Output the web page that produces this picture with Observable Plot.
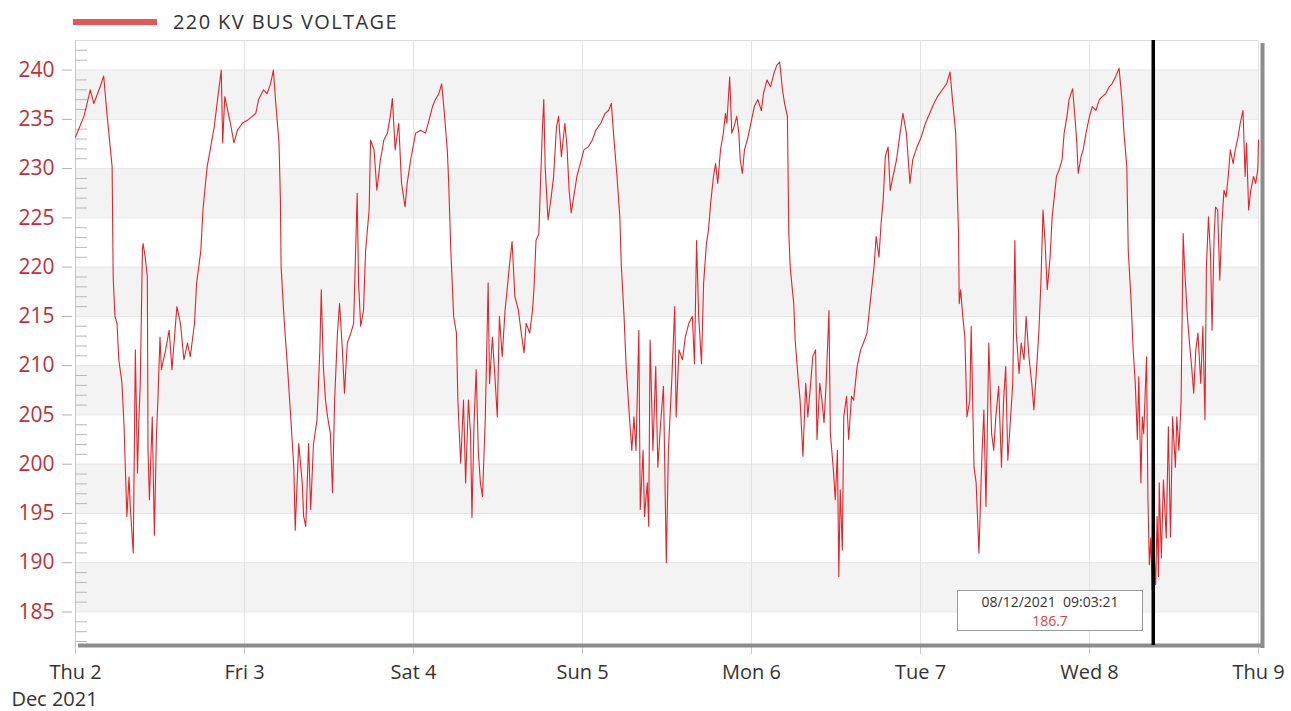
<!DOCTYPE html>
<html><head><meta charset="utf-8">
<script src="https://cdn.jsdelivr.net/npm/d3@7"></script>
<script src="https://cdn.jsdelivr.net/npm/@observablehq/plot@0.6"></script>
<style>
body{margin:0;background:#fff;font-family:"Open Sans",sans-serif;}
#wrap{position:relative;width:1291px;height:711px;overflow:hidden;}
#legend{position:absolute;left:73px;top:11px;height:21px;display:flex;align-items:center;}
.sw{width:84px;height:6px;background:#e05a5a;}
.lt{margin-left:16px;font-size:20px;letter-spacing:1.4px;color:#333;}
#chart{position:absolute;left:0;top:30px;}
#tip{position:absolute;left:957px;top:590px;width:186px;height:41px;border:1px solid #9a9a9a;background:#fff;box-sizing:border-box;text-align:center;font-size:14px;line-height:19px;padding-top:1px;white-space:pre;color:#333;}
#tip .v{color:#d4474a;}
</style></head>
<body>
<div id="wrap">
  <div id="legend"><div class="sw"></div><div class="lt">220 KV BUS VOLTAGE</div></div>
  <div id="chart"></div>
  <div id="tip">08/12/2021  09:03:21<br><span class="v">186.7</span></div>
</div>
<script>
// hours since Thu 2 Dec 2021 00:00
const hours = [0,1.2,2.1,2.6,3.5,4.0,4.5,5.2,5.35,5.6,5.9,6.15,6.6,6.9,7.1,7.3,7.6,7.8,8.2,8.5,8.8,9.0,9.2,9.5,9.6,9.9,10.2,10.3,10.5,10.9,11.2,11.5,11.7,12.0,12.2,12.8,13.3,13.7,14.4,14.9,15.4,15.9,16.3,16.9,17.2,17.5,17.8,18.1,18.5,18.7,19.2,19.7,20.1,20.7,20.9,21.2,21.5,22.0,22.5,23.0,23.7,24.4,25.1,25.6,26.0,26.7,27.2,27.7,28.1,28.4,28.9,29.1,29.2,29.6,29.8,30.1,30.5,31.0,31.2,31.7,32.2,32.4,32.7,33.1,33.4,33.8,34.3,34.7,34.9,35.2,35.5,35.8,36.2,36.5,36.8,37.2,37.5,37.9,38.2,38.6,39.1,39.5,40.0,40.2,40.5,40.9,41.2,41.7,41.9,42.4,42.8,43.3,43.8,44.3,44.7,45.0,45.4,45.9,46.3,46.8,47.1,47.6,48.3,49.0,49.7,50.2,50.7,51.1,51.6,52.0,52.3,52.8,53.0,53.3,53.5,53.7,54.1,54.3,54.7,55.1,55.4,55.8,56.1,56.3,56.6,56.9,57.2,57.5,57.8,58.2,58.6,58.8,59.2,59.5,59.9,60.2,60.6,61.0,61.3,61.6,62.0,62.4,62.9,63.3,63.7,64.0,64.5,64.9,65.1,65.4,65.8,66.0,66.3,66.5,66.7,67.1,67.5,67.9,68.3,68.6,69.0,69.5,69.8,70.1,70.4,70.9,71.2,71.7,72.2,72.8,73.4,73.9,74.6,75.2,75.7,76.1,76.4,76.9,77.3,77.5,77.9,78.2,78.6,79.0,79.3,79.6,80.0,80.2,80.6,80.8,81.2,81.4,81.6,82.0,82.4,82.7,83.1,83.5,83.9,84.2,84.7,85.1,85.3,85.7,86.2,86.6,87.1,87.6,87.9,88.2,88.5,88.9,89.2,89.6,89.9,90.2,90.6,90.9,91.2,91.6,92.0,92.3,92.5,92.9,93.2,93.5,93.9,94.2,94.4,94.7,95.0,95.5,95.9,96.4,96.9,97.4,97.7,98.2,98.7,99.2,99.6,100.0,100.4,100.7,101.1,101.3,101.5,101.8,102.0,102.2,102.6,102.9,103.3,103.7,104.0,104.4,104.7,105.1,105.3,105.7,106.0,106.3,106.6,107.0,107.2,107.6,107.9,108.2,108.4,108.6,108.9,109.1,109.5,109.8,110.2,110.5,111.0,111.5,111.9,112.4,112.9,113.4,113.7,114.1,114.4,114.7,115.0,115.4,115.7,116.1,116.6,117.1,117.5,118.0,118.5,118.9,119.5,120.1,120.7,121.3,121.9,122.4,123.1,123.7,124.2,124.5,125.0,125.2,125.4,125.5,125.7,126.0,126.3,126.6,127.0,127.2,127.6,127.9,128.3,128.7,129.0,129.3,129.7,130.1,130.4,130.7,131.1,131.5,131.8,132.1,132.4,132.8,133.1,133.4,133.6,134.0,134.3,134.7,135.0,135.4,135.8,136.1,136.5,136.8,137.1,137.4,137.7,138.0,138.4,138.7,139.0,139.3,139.7,140.1,140.4,140.8,141.1,141.6,142.0,142.2,142.4,142.8,143.1,143.5,144.0,144.4,144.9,145.4,145.8,146.3,146.8,147.2,147.7,148.2,148.6,148.9,149.3,149.5,149.9,150.2,150.5,150.8,151.0,151.3,151.5,151.7,152.1,152.3,152.5,152.7,152.9,153.05,153.2,153.4,153.6,153.8,153.9,154.2,154.5,154.9,155.2,155.5,155.8,156.2,156.4,156.7,157.0,157.3,157.5,157.9,158.2,158.5,158.8,159.1,159.4,159.8,160.1,160.4,160.6,160.9,161.2,161.4,161.7,161.9,162.2,162.5,162.8,163.1,163.4,163.7,164.0,164.4,164.7,165.1,165.4,165.8,166.1,166.3,166.6,166.9,167.3,167.6,167.9,168.0];
const volts = [233.2,235.3,238,236.6,238.3,239.4,235.3,230.2,219,215,214.3,210.6,208.2,203.8,199.1,194.7,198.7,195.4,191,211.6,199.1,204.5,208.2,221.7,222.4,221,219,201.4,196.4,204.8,192.8,203.1,206.5,212.9,209.6,211.6,213.6,209.6,216,214.3,210.6,212.3,210.9,214.3,218.4,220,221.7,225.8,228.8,230.2,232.2,234.2,236.6,240,232.6,237.3,236.3,234.6,232.6,233.9,234.6,234.9,235.3,235.6,237,238,237.6,238.6,240,237,232.6,226.8,220,215,212.9,209.9,205.5,199.7,193.3,202.1,198.1,194.7,193.7,202.1,195.4,202.1,204.5,211.6,217.7,209.9,206.5,204.8,203.1,197.1,206.5,213.3,216.3,211.6,207.2,212.3,213.3,214.3,227.5,218.4,214,215.6,221.7,225.8,232.9,231.9,227.8,230.9,232.9,233.6,235.3,237.1,231.9,234.6,228.5,226.1,228.5,230.9,233.6,233.9,233.6,234.9,236.3,237,237.6,238.6,236.3,231.9,228.5,221.7,218.4,215,213.3,206.5,200.1,206.5,198.1,206.5,203.1,194.6,204.2,209.6,201.4,198.1,196.7,204.8,218.4,208.2,212.9,209.6,204.8,215,210.9,215.6,217.7,220,222.6,217,215.6,213.3,211.3,214.3,213.3,215.6,217.7,222.7,223.4,227.8,233.9,237,230.2,224.8,226.8,229.2,234.2,235.3,231.2,234.6,232.2,227.8,225.5,227.8,229.2,230.5,231.9,232.2,232.9,233.9,234.6,235.6,235.9,236.6,233.6,229.2,225.1,220.4,215,209.9,205.5,201.4,204.8,201.4,213.6,195.4,201.4,194.7,198.1,193.7,212.6,201.4,209.9,199.7,204.2,207.9,190,201.4,208.9,216,204.8,211.6,210.6,212.9,214.3,215,210.2,222.7,215,210.2,218.4,222.4,223.8,226.5,229.2,230.5,228.5,231.9,233.6,235.6,234.6,239.3,233.6,234.2,235.3,233.6,230.9,229.5,231.9,233.2,234.6,236.3,237,235.9,237.6,239,238.3,239.7,240.5,240.8,238,236.6,235.3,223.4,220,217.7,216.3,212.6,208.9,206.5,200.8,208.2,204.8,208.2,210.9,211.6,202.5,208.2,206.5,204.2,208.2,215.6,203.1,199.7,196.4,201.4,188.6,197.4,191.3,204.8,206.9,202.5,206.9,206.5,209.9,211.6,212.3,213.3,216.7,220,223.1,221,224.4,226.8,231.2,232.2,227.8,229.2,230.9,233.6,235.6,233.6,228.5,230.9,232.2,233.2,234.6,235.6,236.6,237.3,238,238.6,239.8,237.3,233.6,228.5,223.4,216.3,217.7,215,212.9,204.8,206.5,214,199.7,198.1,191,200.4,205.5,195.7,212.3,203.1,201.4,204.8,207.9,199.7,206.5,209.9,200.4,204.8,208.2,222.7,213.3,209.2,212.3,210.6,215,210.9,208.2,205.5,209.9,213.3,218.4,225.8,222.4,217.7,221,225.1,227.1,229.2,229.9,230.9,233.6,235.3,237,238.1,234.6,232.6,229.5,231.2,231.9,233.6,235.3,236.3,235.9,237,237.3,237.6,238.3,238.6,239.3,240.2,237,233.6,230.2,221.7,216.7,211.6,208.2,202.5,208.9,198.1,204.8,203.1,210.9,196.4,189.8,192.5,187.3,186.7,190.6,187.8,194.7,188.6,198.1,190.5,198.4,192.5,203.8,192.6,204.8,199.7,204.8,201.4,206.2,223.4,220,215,212.3,209.9,207.2,211.6,213.3,208.2,214,204.5,220,225.1,221,213.6,223.1,226.1,225.8,218.7,224.4,227.8,227.1,229.2,231.9,230.5,231.9,233.2,234.6,235.9,229.2,232.6,225.8,227.8,229.2,228.5,229.9,232.9];

const days = d3.range(0, 8).map(i => new Date(2021, 11, 2 + i));
const dayLabels = ["Thu 2", "Fri 3", "Sat 4", "Sun 5", "Mon 6", "Tue 7", "Wed 8", "Thu 9"];
const yDomain = [181.6, 243.0];
const majorTicks = d3.range(185, 241, 5);
const minorTicks = d3.range(182, 243).filter(v => v % 5 !== 0);
const bandStarts = [185, 195, 205, 215, 225, 235];
const cursorTime = new Date(2021, 11, 8, 9, 3, 21);

const t0 = days[0].getTime();
const series = hours.map((h, i) => ({t: new Date(t0 + h * 3600000), v: volts[i]}));
const bands = bandStarts.map(b => ({y1: b, y2: b + 5}));

const chart = Plot.plot({
  width: 1291, height: 681,
  marginLeft: 75, marginRight: 33, marginTop: 10, marginBottom: 66,
  style: {fontFamily: "Open Sans", fontSize: "21px", background: "transparent", overflow: "visible"},
  x: {type: "time", domain: [days[0], days[7]]},
  y: {domain: yDomain},
  marks: [
    Plot.rectY(bands, {x1: () => days[0], x2: () => days[7], y1: "y1", y2: "y2", fill: "#f3f3f3"}),
    Plot.ruleY(majorTicks, {stroke: "#e6e6e6"}),
    Plot.ruleY([yDomain[1]], {stroke: "#dcdcdc"}),
    Plot.gridX(days, {stroke: "#e2e2e2", strokeOpacity: 1}),
    Plot.ruleX([days[0]], {stroke: "#c8c8c8"}),
    Plot.axisY({ticks: majorTicks, tickSize: 10, dx: -3, tickPadding: 8, stroke: "#b0b0b0", fill: "#c0303a", fontSize: 21, label: null}),
    Plot.axisY({ticks: minorTicks, tickSize: 12, dx: 12, text: null, stroke: "#b8b8b8", label: null}),
    Plot.axisX({ticks: days, tickFormat: (d, i) => dayLabels[i], tickSize: 9, tickPadding: 10, stroke: "#c8c8c8", fill: "#333", fontSize: 20, label: null}),
    Plot.text([days[0]], {x: d => d, frameAnchor: "bottom", dy: 60, dx: -21, text: () => "Dec 2021", fill: "#333", fontSize: 20}),
    Plot.line(series, {x: "t", y: "v", stroke: "#e3242b", strokeWidth: 1.1}),
    Plot.ruleY([yDomain[0]], {stroke: "#8c8c8c", strokeWidth: 4, dx: 3}),
    Plot.ruleX([days[7]], {stroke: "#8c8c8c", strokeWidth: 4, dx: 4, dy: 3}),
    Plot.ruleX([cursorTime], {stroke: "#000", strokeWidth: 3.5})
  ]
});
document.getElementById("chart").appendChild(chart);
</script>
</body></html>
